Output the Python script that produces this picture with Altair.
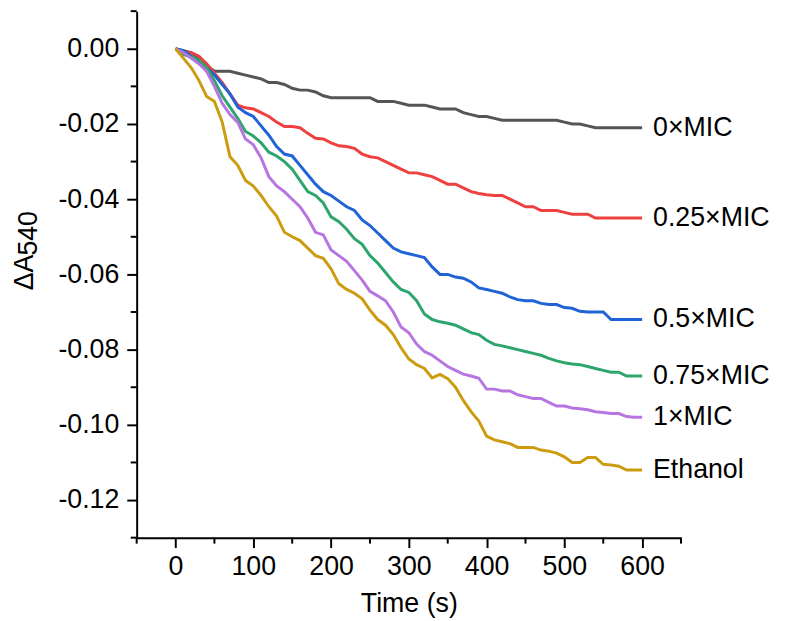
import altair as alt
import pandas as pd

times = list(range(0, 601, 10))

series_names = ["0×MIC", "0.25×MIC", "0.5×MIC", "0.75×MIC", "1×MIC", "Ethanol"]
series_colors = ["#555555", "#ef4040", "#1f63d6", "#2ea56c", "#b675e0", "#cc9c10"]

mic_0 = [0, -0.0005, -0.001, -0.0025, -0.0045, -0.006, -0.006, -0.006, -0.0065, -0.007,
         -0.0075, -0.008, -0.009, -0.009, -0.0095, -0.0105, -0.011, -0.011, -0.0115, -0.0125,
         -0.013, -0.013, -0.013, -0.013, -0.013, -0.013, -0.014, -0.014, -0.014, -0.0145,
         -0.015, -0.015, -0.015, -0.0155, -0.016, -0.016, -0.016, -0.017, -0.0175, -0.018,
         -0.018, -0.0185, -0.019, -0.019, -0.019, -0.019, -0.019, -0.019, -0.019, -0.019,
         -0.0195, -0.02, -0.02, -0.0205, -0.021, -0.021, -0.021, -0.021, -0.021, -0.021, -0.021]

mic_025 = [0, -0.001, -0.001, -0.002, -0.004, -0.0065, -0.009, -0.012, -0.015, -0.0157,
           -0.016, -0.017, -0.018, -0.0195, -0.0207, -0.0207, -0.021, -0.0225, -0.0238, -0.024,
           -0.025, -0.0258, -0.026, -0.0265, -0.028, -0.0287, -0.029, -0.030, -0.031, -0.032,
           -0.033, -0.033, -0.0335, -0.034, -0.035, -0.036, -0.036, -0.037, -0.038, -0.0385,
           -0.0388, -0.039, -0.039, -0.040, -0.041, -0.042, -0.042, -0.043, -0.043, -0.043,
           -0.0435, -0.044, -0.044, -0.044, -0.045, -0.045, -0.045, -0.045, -0.045, -0.045, -0.045]

mic_05 = [0, -0.0005, -0.002, -0.0036, -0.005, -0.007, -0.0095, -0.012, -0.0155, -0.017,
          -0.018, -0.0205, -0.023, -0.026, -0.028, -0.0285, -0.031, -0.0335, -0.036, -0.038,
          -0.039, -0.0405, -0.042, -0.043, -0.0455, -0.047, -0.049, -0.051, -0.053, -0.054,
          -0.0545, -0.055, -0.0555, -0.058, -0.060, -0.060, -0.0607, -0.061, -0.062, -0.0636,
          -0.064, -0.0645, -0.065, -0.066, -0.0667, -0.067, -0.067, -0.0677, -0.068, -0.068,
          -0.0688, -0.069, -0.0698, -0.070, -0.070, -0.070, -0.072, -0.072, -0.072, -0.072, -0.072]

mic_075 = [0, -0.0015, -0.0022, -0.003, -0.005, -0.0085, -0.0125, -0.0155, -0.0185, -0.022,
           -0.0232, -0.025, -0.0275, -0.0285, -0.030, -0.032, -0.035, -0.038, -0.039, -0.041,
           -0.0447, -0.046, -0.048, -0.0505, -0.052, -0.055, -0.057, -0.0595, -0.062, -0.064,
           -0.0648, -0.067, -0.0705, -0.072, -0.0726, -0.073, -0.0735, -0.0745, -0.0755, -0.076,
           -0.0775, -0.0786, -0.079, -0.0795, -0.080, -0.0805, -0.081, -0.0815, -0.0823, -0.083,
           -0.0835, -0.0838, -0.084, -0.0845, -0.085, -0.0855, -0.086, -0.086, -0.087, -0.087, -0.087]

mic_1 = [0, -0.001, -0.0025, -0.004, -0.006, -0.010, -0.0145, -0.0175, -0.0196, -0.024,
         -0.0255, -0.029, -0.034, -0.0365, -0.038, -0.040, -0.042, -0.045, -0.0488, -0.0495,
         -0.0535, -0.055, -0.0565, -0.059, -0.0615, -0.0645, -0.0657, -0.067, -0.070, -0.074,
         -0.0755, -0.0785, -0.0805, -0.0815, -0.083, -0.0845, -0.0855, -0.0865, -0.087, -0.0876,
         -0.0905, -0.0905, -0.091, -0.091, -0.092, -0.0925, -0.093, -0.093, -0.094, -0.095,
         -0.095, -0.0955, -0.0957, -0.096, -0.0965, -0.0967, -0.097, -0.097, -0.0978, -0.098, -0.098]

ethanol = [0, -0.0025, -0.005, -0.0084, -0.0127, -0.014, -0.0195, -0.0287, -0.031, -0.035,
           -0.0365, -0.039, -0.042, -0.0445, -0.0488, -0.050, -0.051, -0.053, -0.055, -0.0557,
           -0.0585, -0.0625, -0.064, -0.065, -0.0665, -0.0695, -0.072, -0.0735, -0.076, -0.0795,
           -0.0825, -0.084, -0.085, -0.0875, -0.0866, -0.0877, -0.090, -0.0935, -0.0965, -0.099,
           -0.103, -0.104, -0.1045, -0.105, -0.106, -0.106, -0.106, -0.1067, -0.107, -0.1075,
           -0.1085, -0.110, -0.110, -0.1087, -0.1087, -0.1105, -0.1107, -0.111, -0.112, -0.112, -0.112]

all_series = [mic_0, mic_025, mic_05, mic_075, mic_1, ethanol]

x_major = [0, 100, 200, 300, 400, 500, 600]
x_minor = [-50, 50, 150, 250, 350, 450, 550, 650]
y_major = [-0.12, -0.10, -0.08, -0.06, -0.04, -0.02, 0.00]
y_minor = [-0.13, -0.11, -0.09, -0.07, -0.05, -0.03, -0.01, 0.01]

rows = []
for name, vals in zip(series_names, all_series):
    for t, v in zip(times, vals):
        rows.append({"t": t, "v": v, "series": name})
df = pd.DataFrame(rows)

ends = pd.DataFrame({"t": [times[-1]] * len(series_names),
                     "v": [s[-1] for s in all_series],
                     "series": series_names})

W, H = 550, 532
FONT = "Liberation Sans"

xscale = alt.Scale(domain=[-50, 650], nice=False, zero=False)
yscale = alt.Scale(domain=[-0.13, 0.01], nice=False, zero=False)
cscale = alt.Scale(domain=series_names, range=series_colors)

lines = alt.Chart(df).mark_line(strokeWidth=3).encode(
    x=alt.X("t:Q", scale=xscale,
            axis=alt.Axis(values=x_major, title="Time (s)", format="d",
                          titleFontSize=27, titleFontWeight="normal", titlePadding=12,
                          labelFontSize=27, labelPadding=6, labelFlush=False)),
    y=alt.Y("v:Q", scale=yscale,
            axis=alt.Axis(values=y_major, title=None,
                          labelExpr="replace(format(datum.value, '.2f'), '\u2212', '-')",
                          labelFontSize=27, labelPadding=8, labelFlush=False)),
    color=alt.Color("series:N", scale=cscale, legend=None),
    detail="series:N",
)

labels = alt.Chart(ends).mark_text(align="left", baseline="middle", dx=11,
                                   fontSize=27, font=FONT, color="black").encode(
    x=alt.X("t:Q", scale=xscale),
    y=alt.Y("v:Q", scale=yscale),
    text="series:N",
)

xminor = alt.Chart(pd.DataFrame({"t": x_minor})).mark_rule(color="black", strokeWidth=2).encode(
    x=alt.X("t:Q", scale=xscale),
    y=alt.value(H),
    y2=alt.value(H + 6),
)

yminor = alt.Chart(pd.DataFrame({"v": y_minor})).mark_rule(color="black", strokeWidth=2).encode(
    y=alt.Y("v:Q", scale=yscale),
    x=alt.value(-6),
    x2=alt.value(0),
)

ytitle_a = alt.Chart(pd.DataFrame({"s": ["ΔA"]})).mark_text(
    align="left", baseline="alphabetic", angle=270, fontSize=27, font=FONT, color="black"
).encode(x=alt.value(-105), y=alt.value(282), text="s:N")

ytitle_sub = alt.Chart(pd.DataFrame({"s": ["540"]})).mark_text(
    align="left", baseline="alphabetic", angle=270, fontSize=27, font=FONT, color="black"
).encode(x=alt.value(-101), y=alt.value(247), text="s:N")

chart = alt.layer(lines, labels, xminor, yminor, ytitle_a, ytitle_sub).properties(
    width=W, height=H,
    autosize=alt.AutoSizeParams(type="none"),
    padding={"left": 130, "top": 0, "right": 99, "bottom": 81},
).configure_view(stroke=None).configure_axis(
    grid=False, domainColor="black", domainWidth=2, tickColor="black", tickWidth=2,
    tickSize=10, labelColor="black", titleColor="black", labelFont=FONT, titleFont=FONT,
).configure_text(font=FONT)

chart.save("out.html", embed_options={"renderer": "svg", "actions": False})
